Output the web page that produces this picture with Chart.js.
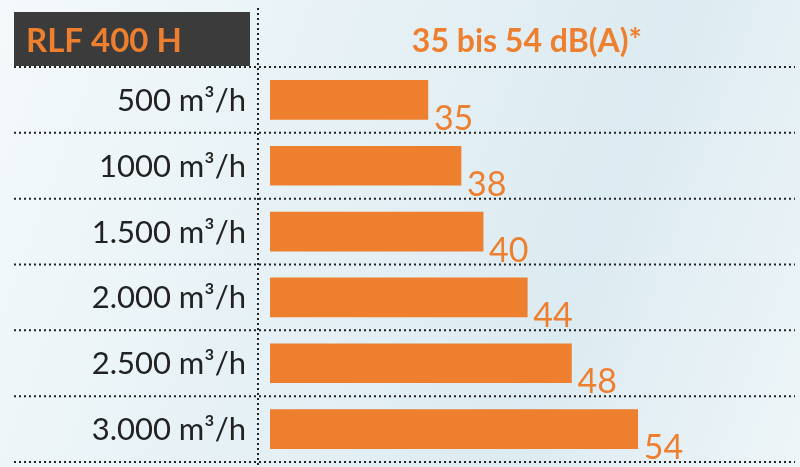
<!DOCTYPE html><html><head><script src="https://cdn.jsdelivr.net/npm/chart.js@4/dist/chart.umd.min.js"></script>
<style>html,body{margin:0;padding:0}body{width:800px;height:467px;background:linear-gradient(110deg,#f4f9fb 0%,#e6f1f5 40%,#dcebf1 70%,#eef5f8 100%)}</style></head><body>
<canvas id="c" width="800" height="467"></canvas>
<script>
const categories=["500 m³/h","1000 m³/h","1.500 m³/h","2.000 m³/h","2.500 m³/h","3.000 m³/h"];
const values=[35,38,40,44,48,54];
const header="RLF 400 H";
const title="35 bis 54 dB(A)*";
const ORANGE="#ee7f2f";
const deco={id:"deco",beforeDatasetsDraw(ch){const c=ch.ctx,y=ch.scales.y,a=ch.chartArea;c.save();
c.fillStyle="#3b3b3b";c.fillRect(14,12,236,54);
c.fillStyle=ORANGE;c.font="bold 33px Lato";c.textBaseline="middle";c.textAlign="left";c.fillText(header,26,41);
c.textAlign="center";c.font="bold 32px Lato";c.fillText(title,527,42);
c.strokeStyle="#222";c.lineWidth=2;c.setLineDash([2,3]);
c.beginPath();c.moveTo(258,8);c.lineTo(258,467);c.stroke();
for(let i=0;i<=categories.length;i++){const yy=a.top+i*(a.bottom-a.top)/categories.length;c.beginPath();c.moveTo(14,yy);c.lineTo(795,yy);c.stroke();}
c.setLineDash([]);c.fillStyle="#222";c.font="31px Lato";c.textAlign="right";
categories.forEach((t,i)=>c.fillText(t,246,y.getPixelForValue(i)+1));
c.restore();},
afterDatasetsDraw(ch){const c=ch.ctx;c.save();c.fillStyle=ORANGE;c.font="34px Lato";c.textAlign="left";c.textBaseline="alphabetic";
ch.getDatasetMeta(0).data.forEach((b,i)=>c.fillText(values[i],b.x+6,b.y+30));c.restore();}};
new Chart(document.getElementById("c"),{type:"bar",data:{labels:categories,datasets:[{data:values,backgroundColor:ORANGE,barThickness:39}]},
options:{indexAxis:"y",responsive:false,animation:false,layout:{padding:{left:270,top:67,bottom:5,right:0}},
plugins:{legend:{display:false},tooltip:{enabled:false}},
scales:{x:{display:false,min:20.7,max:68.7},y:{display:false}}},plugins:[deco]});
</script></body></html>
